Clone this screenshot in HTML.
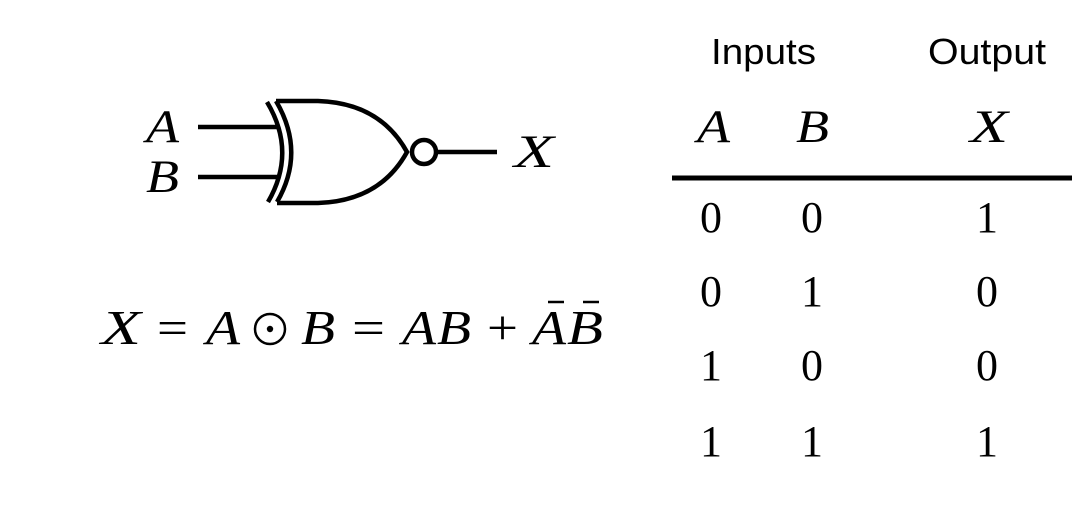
<!DOCTYPE html>
<html><head><meta charset="utf-8"><style>
html,body{margin:0;padding:0;background:#fff;}
svg{display:block;}
.m{font-family:"Liberation Serif",serif;font-style:italic;font-size:47px;}
.q{font-family:"Liberation Serif",serif;font-style:italic;font-size:49px;}
.e{font-family:"Liberation Serif",serif;font-size:49px;}
.d{font-family:"Liberation Serif",serif;font-size:44px;}
.s{font-family:"Liberation Sans",sans-serif;font-size:36px;}
</style></head><body>
<svg width="1080" height="505" viewBox="0 0 1080 505" xmlns="http://www.w3.org/2000/svg">
<g fill="none" stroke="#000" stroke-width="4.5">
<line x1="198" y1="127" x2="280" y2="127"/>
<line x1="198" y1="177" x2="280" y2="177"/>
<path d="M267 102 Q297 152 268 202"/>
<path d="M276 101 Q306 152 277 202"/>
<path d="M276 101 L318 101 Q380 103 407 152 Q380 201 318 203 L277 203"/>
<circle cx="424" cy="152" r="12"/>
<line x1="436" y1="152" x2="497" y2="152"/>
<line x1="672" y1="178" x2="1072" y2="178" stroke-width="5"/>
</g>
<text class="m" x="146" y="142" textLength="33" lengthAdjust="spacingAndGlyphs">A</text>
<text class="m" x="146" y="192" textLength="33" lengthAdjust="spacingAndGlyphs">B</text>
<text class="m" x="514" y="167" textLength="40" lengthAdjust="spacingAndGlyphs">X</text>
<g class="q">
<text x="101" y="344" textLength="40" lengthAdjust="spacingAndGlyphs">X</text>
<text x="206" y="344" textLength="34" lengthAdjust="spacingAndGlyphs">A</text>
<text x="301" y="344" textLength="34" lengthAdjust="spacingAndGlyphs">B</text>
<text x="402" y="344" textLength="34" lengthAdjust="spacingAndGlyphs">A</text>
<text x="437" y="344" textLength="34" lengthAdjust="spacingAndGlyphs">B</text>
<text x="532" y="344" textLength="34" lengthAdjust="spacingAndGlyphs">A</text>
<text x="567" y="344" textLength="36" lengthAdjust="spacingAndGlyphs">B</text>
</g>
<g class="e">
<text x="157" y="344" textLength="31" lengthAdjust="spacingAndGlyphs">=</text>
<text x="352" y="344" textLength="33" lengthAdjust="spacingAndGlyphs">=</text>
<text x="487" y="344" textLength="31" lengthAdjust="spacingAndGlyphs">+</text>
</g>
<g fill="none" stroke="#000" stroke-width="2.5">
<circle cx="270" cy="329" r="15"/>
<line x1="548" y1="302" x2="564" y2="302"/>
<line x1="583" y1="302" x2="599" y2="302"/>
</g>
<circle cx="270" cy="329" r="3.2" fill="#000"/>
<text class="s" x="711" y="64" textLength="105" lengthAdjust="spacingAndGlyphs">Inputs</text>
<text class="s" x="928" y="64" textLength="118" lengthAdjust="spacingAndGlyphs">Output</text>
<text class="m" x="697" y="142" textLength="33" lengthAdjust="spacingAndGlyphs">A</text>
<text class="m" x="796" y="142" textLength="33" lengthAdjust="spacingAndGlyphs">B</text>
<text class="m" x="970" y="142" textLength="38" lengthAdjust="spacingAndGlyphs">X</text>
<g class="d" text-anchor="middle">
<text x="711" y="232">0</text><text x="812" y="232">0</text><text x="987" y="232">1</text>
<text x="711" y="306">0</text><text x="812" y="306">1</text><text x="987" y="306">0</text>
<text x="711" y="380">1</text><text x="812" y="380">0</text><text x="987" y="380">0</text>
<text x="711" y="456">1</text><text x="812" y="456">1</text><text x="987" y="456">1</text>
</g>
</svg>
</body></html>
